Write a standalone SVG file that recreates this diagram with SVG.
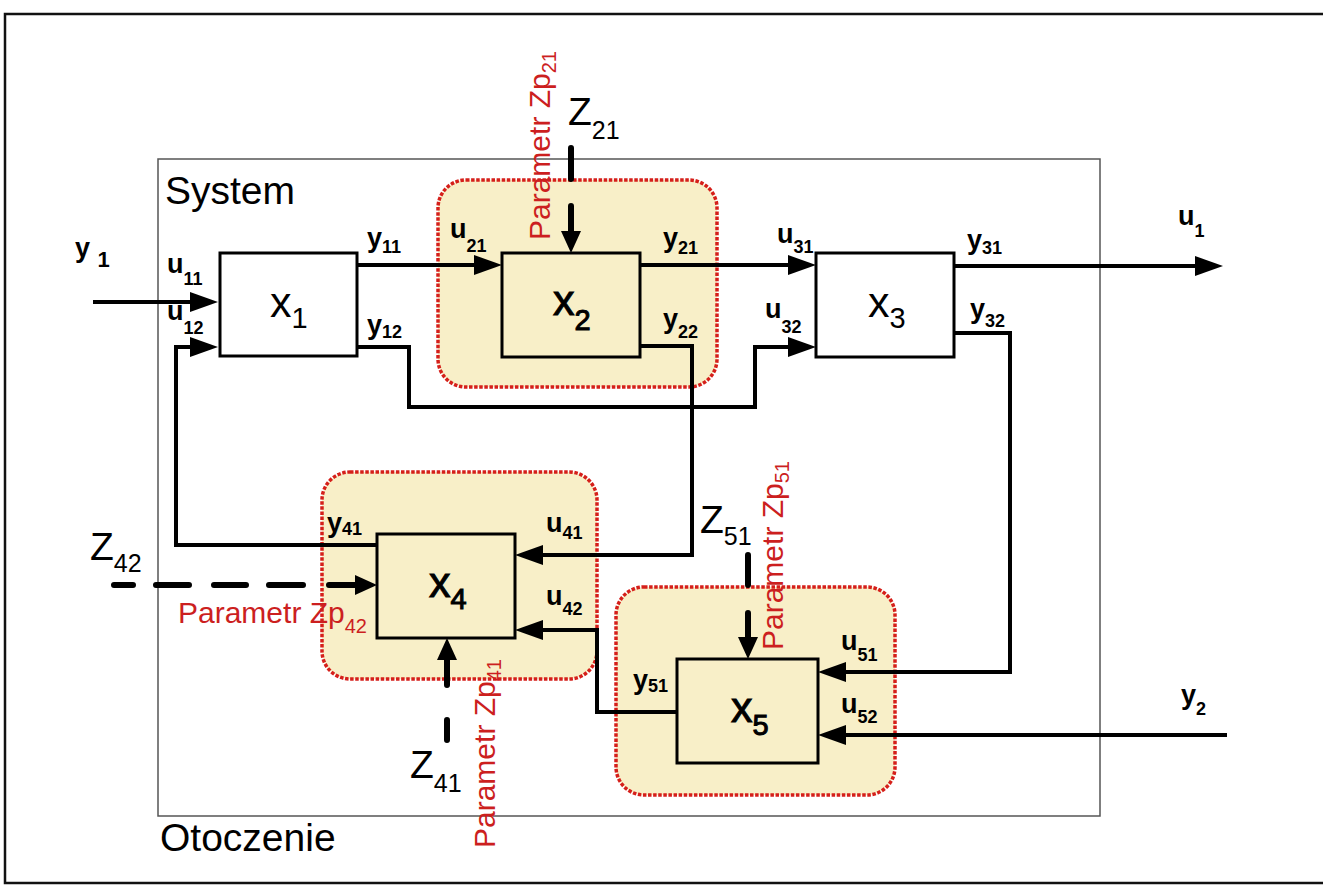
<svg xmlns="http://www.w3.org/2000/svg" width="1323" height="886" viewBox="0 0 1323 886">
<style>
text{font-family:"Liberation Sans",Arial,sans-serif;fill:#000}
.frame{fill:none;stroke:#111;stroke-width:2.5}
.sys{fill:none;stroke:#555;stroke-width:1.5}
.region{fill:#f8efc8;stroke:#d51f1a;stroke-width:3.5;stroke-dasharray:3.5 1.6}
.box{fill:none;stroke:#000;stroke-width:3}
.wbox{fill:#fff;stroke:#000;stroke-width:3}
.conn{fill:none;stroke:#000;stroke-width:4}
.zl{fill:none;stroke:#000;stroke-width:6;stroke-linecap:round}
.lbl{font-size:27px;font-weight:bold}
.sub{font-size:18px}
.big{font-size:39px}
.bsub{font-size:25px}
.xn{font-size:43px}
.xh{stroke:#000;stroke-width:1}
.xs{font-size:29px}
.par{font-size:30px;fill:#cc1f1f}
.psub{font-size:20px;fill:#cc1f1f}
</style>
<defs>
<marker id="arr" markerUnits="userSpaceOnUse" markerWidth="30" markerHeight="22" refX="20" refY="10" orient="auto">
<path d="M0,0 L28,10 L0,20 z" fill="#000"/>
</marker>
<marker id="arrZ" markerUnits="userSpaceOnUse" markerWidth="24" markerHeight="22" refX="10" refY="10" orient="auto">
<path d="M0,0 L22,10 L0,20 z" fill="#000"/>
</marker>
</defs>
<rect x="0" y="0" width="1323" height="886" fill="#fff"/>
<rect class="frame" x="5" y="14" width="1330" height="869"/>
<g id="system">
<rect class="sys" x="158" y="159" width="942" height="657"/>
<text class="big" x="165" y="204">System</text>
<text class="big" x="160" y="851">Otoczenie</text>
</g>
<g id="regions">
<rect class="region" x="438" y="180" width="279" height="207" rx="28"/>
<rect class="region" x="322" y="472" width="275" height="207" rx="28"/>
<rect class="region" x="616" y="587" width="279" height="208" rx="28"/>
</g>
<g id="connectors">
<path class="conn" d="M93,302 H210" marker-end="url(#arr)"/>
<path class="conn" d="M357,265 H494" marker-end="url(#arr)"/>
<path class="conn" d="M640,265 H808" marker-end="url(#arr)"/>
<path class="conn" d="M954,266 H1215" marker-end="url(#arr)"/>
<path class="conn" d="M357,347 H409 V407 H755 V347 H808" marker-end="url(#arr)"/>
<path class="conn" d="M640,346 H692 V555 H523" marker-end="url(#arr)"/>
<path class="conn" d="M377,545 H176 V347 H210" marker-end="url(#arr)"/>
<path class="conn" d="M954,333 H1010 V672 H826" marker-end="url(#arr)"/>
<path class="conn" d="M677,712 H597 V630 H523" marker-end="url(#arr)"/>
<path class="conn" d="M1227,735 H826" marker-end="url(#arr)"/>
<path class="zl" d="M571,148 V179 M571,206 V241" marker-end="url(#arrZ)"/>
<path class="zl" d="M114,585 H133 M156,585 H189 M214,585 H246 M269,585 H303 M329,585 H365" marker-end="url(#arrZ)"/>
<path class="zl" d="M447,740 V720 M447,685 V650" marker-end="url(#arrZ)"/>
<path class="zl" d="M748,555 V585 M748,613 V647" marker-end="url(#arrZ)"/>
</g>
<g id="x1">
<rect class="wbox" x="220" y="253" width="137" height="103"/>
<text class="xn" x="270" y="317">x<tspan class="xs" dy="11">1</tspan></text>
</g>
<g id="x2">
<rect class="box" x="502" y="253" width="138" height="104"/>
<text class="xn xh" x="553" y="315">x<tspan class="xs" dy="15">2</tspan></text>
</g>
<g id="x3">
<rect class="wbox" x="816" y="253" width="138" height="104"/>
<text class="xn" x="868" y="317">x<tspan class="xs" dy="11">3</tspan></text>
</g>
<g id="x4">
<rect class="box" x="377" y="534" width="138" height="104"/>
<text class="xn xh" x="429" y="597">x<tspan class="xs" dy="12">4</tspan></text>
</g>
<g id="x5">
<rect class="box" x="677" y="659" width="141" height="104"/>
<text class="xn xh" x="731" y="722">x<tspan class="xs" dy="13">5</tspan></text>
</g>
<g id="labels">
<text class="lbl" x="75" y="257" font-size="30">y <tspan font-size="22" dy="10">1</tspan></text>
<text class="lbl" x="167" y="273">u<tspan class="sub" dy="12">11</tspan></text>
<text class="lbl" x="167" y="320">u<tspan class="sub" dy="14">12</tspan></text>
<text class="lbl" x="367" y="247">y<tspan class="sub" font-size="16" dy="6">11</tspan></text>
<text class="lbl" x="367" y="334">y<tspan class="sub" font-size="16" dy="4">12</tspan></text>
<text class="lbl" x="450" y="238">u<tspan class="sub" dy="14">21</tspan></text>
<text class="lbl" x="663" y="247">y<tspan class="sub" dy="7">21</tspan></text>
<text class="lbl" x="663" y="328">y<tspan class="sub" dy="10">22</tspan></text>
<text class="lbl" x="777" y="243">u<tspan class="sub" dy="10">31</tspan></text>
<text class="lbl" x="765" y="318">u<tspan class="sub" dy="15">32</tspan></text>
<text class="lbl" x="967" y="249">y<tspan class="sub" dy="5">31</tspan></text>
<text class="lbl" x="970" y="318">y<tspan class="sub" dy="9">32</tspan></text>
<text class="lbl" x="1178" y="225">u<tspan class="sub" dy="12">1</tspan></text>
<text class="lbl" x="327" y="532" font-size="25">y<tspan class="sub" font-size="15" dy="3">41</tspan></text>
<text class="lbl" x="546" y="532">u<tspan class="sub" dy="7">41</tspan></text>
<text class="lbl" x="546" y="605">u<tspan class="sub" dy="10">42</tspan></text>
<text class="lbl" x="633" y="689" font-size="25">y<tspan class="sub" font-size="15" dy="3">51</tspan></text>
<text class="lbl" x="841" y="650">u<tspan class="sub" dy="11">51</tspan></text>
<text class="lbl" x="841" y="713">u<tspan class="sub" dy="10">52</tspan></text>
<text class="lbl" x="1181" y="704">y<tspan class="sub" dy="11">2</tspan></text>
<text class="big" x="568" y="125">Z<tspan class="bsub" dy="14">21</tspan></text>
<text class="big" x="90" y="560">Z<tspan class="bsub" dy="12">42</tspan></text>
<text class="big" x="410" y="778">Z<tspan class="bsub" dy="14">41</tspan></text>
<text class="big" x="700" y="533">Z<tspan class="bsub" dy="12">51</tspan></text>
</g>
<g id="parameters">
<text class="par" transform="translate(550,240) rotate(-90)">Parametr Zp<tspan class="psub" dy="6">21</tspan></text>
<text class="par" transform="translate(783,650) rotate(-90)">Parametr Zp<tspan class="psub" dy="6">51</tspan></text>
<text class="par" transform="translate(495,848) rotate(-90)">Parametr Zp<tspan class="psub" dy="6">41</tspan></text>
<text class="par" x="178" y="623">Parametr Zp<tspan class="psub" dy="10">42</tspan></text>
</g>
</svg>
